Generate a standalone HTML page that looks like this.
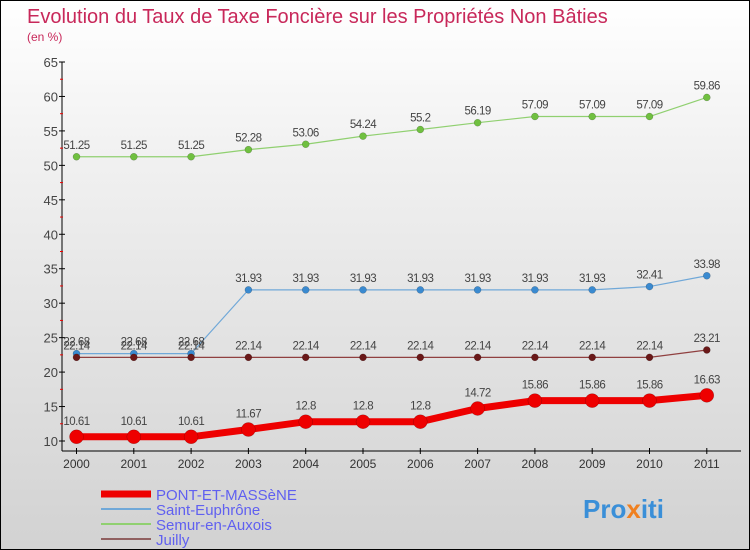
<!DOCTYPE html>
<html><head><meta charset="utf-8"><style>
body{margin:0}
#c{width:750px;height:550px;position:relative;box-sizing:border-box;border:1px solid #000;background:linear-gradient(#fff,#f0f0f0 30%,#d2d2d2);font-family:"Liberation Sans",sans-serif;overflow:hidden}
text{font-family:"Liberation Sans",sans-serif}
</style></head><body>
<div id="c">
<svg id="s" width="750" height="550">
<text x="26" y="22" font-size="20" fill="#c8285a">Evolution du Taux de Taxe Foncière sur les Propriétés Non Bâties</text>
<text x="26" y="40" font-size="12" fill="#c8285a">(en %)</text>
<g id="axes"></g>
<g id="marks"></g>
<g id="legend"></g>
<text x="582" y="517" font-size="26" font-weight="bold" fill="#3a8fd8">Pro<tspan fill="#f08020">x</tspan>iti</text>
</svg>
</div>
<script>
const years=[2000,2001,2002,2003,2004,2005,2006,2007,2008,2009,2010,2011];
const yTicks=[10,15,20,25,30,35,40,45,50,55,60,65];
const pont=[10.61,10.61,10.61,11.67,12.8,12.8,12.8,14.72,15.86,15.86,15.86,16.63];
const saint=[22.68,22.68,22.68,31.93,31.93,31.93,31.93,31.93,31.93,31.93,32.41,33.98];
const semur=[51.25,51.25,51.25,52.28,53.06,54.24,55.2,56.19,57.09,57.09,57.09,59.86];
const juilly=[22.14,22.14,22.14,22.14,22.14,22.14,22.14,22.14,22.14,22.14,22.14,23.21];
const NS="http://www.w3.org/2000/svg";
const X=i=>75.5+i*57.3;
const Y=v=>440-(v-10)*(379/55);
function mk(t,a,p){const e=document.createElementNS(NS,t);for(const k in a)e.setAttribute(k,a[k]);p.appendChild(e);return e;}
const ax=document.getElementById('axes');
let e=mk('line',{x1:61,y1:Y(65),x2:61,y2:450,stroke:'#000'},ax);


e=mk('line',{x1:61,y1:450,x2:740,y2:450,stroke:'#000'},ax);


yTicks.forEach((v,i)=>{
 mk('line',{x1:58,y1:Y(v),x2:64,y2:Y(v),stroke:'#000'},ax);
 if(i<yTicks.length-1)mk('line',{x1:59,y1:Y(v+2.5),x2:62,y2:Y(v+2.5),stroke:'#e00'},ax);
 const t=mk('text',{x:57,y:Y(v)+5,'font-size':13,'text-anchor':'end',fill:'#444'},ax);
 t.textContent=v;
 
 
});
years.forEach((y,i)=>{
 mk('line',{x1:X(i),y1:447,x2:X(i),y2:453,stroke:'#000'},ax);
 const t=mk('text',{x:X(i),y:467,'font-size':12,'text-anchor':'middle',fill:'#333'},ax);
 t.textContent=y;
 
 
});
const mg=document.getElementById('marks');
function series(d,name,col,dot,w,r,dy){
 const g=mk('g',{},mg);
 
 
 const pl=mk('polyline',{points:d.map((v,i)=>X(i)+','+Y(v)).join(' '),fill:'none',stroke:col,'stroke-width':w,'stroke-linejoin':'round'},g);
 
 
 d.forEach((v,i)=>{
  const c=mk('circle',{cx:X(i),cy:Y(v),r:r,fill:dot,stroke:'rgba(0,0,0,0.3)','stroke-width':0.5},g);
  
  
  const t=mk('text',{x:X(i),y:Y(v)-dy,'font-size':11.5,'text-anchor':'middle',fill:'#444','letter-spacing':'-0.5'},g);
  t.textContent=String(v);
  
  
 });
}
series(semur,'semur-en-auxois','#90d070','#70c040',1.2,3.5,8);
series(saint,'saint-euphrone','#70a8d8','#3a8ad0',1.2,3.5,8);
series(juilly,'juilly','#904040','#6a1818',1.2,3.5,8);
series(pont,'pont-et-massene','#ee0000','#ee0000',7,7,12);
const lg=document.getElementById('legend');
[['PONT-ET-MASSèNE','#ee0000',7],['Saint-Euphrône','#70a8d8',2],['Semur-en-Auxois','#90d070',2],['Juilly','#906060',2]].forEach((l,i)=>{
 const y=493+i*15;
 const ln=mk('line',{x1:100,y1:y,x2:150,y2:y,stroke:l[1],'stroke-width':l[2]},lg);
 
 
 const t=mk('text',{x:155,y:y+6,'font-size':15,fill:'#6060f0'},lg);
 t.textContent=l[0];
 
 
});
</script>
</body></html>
